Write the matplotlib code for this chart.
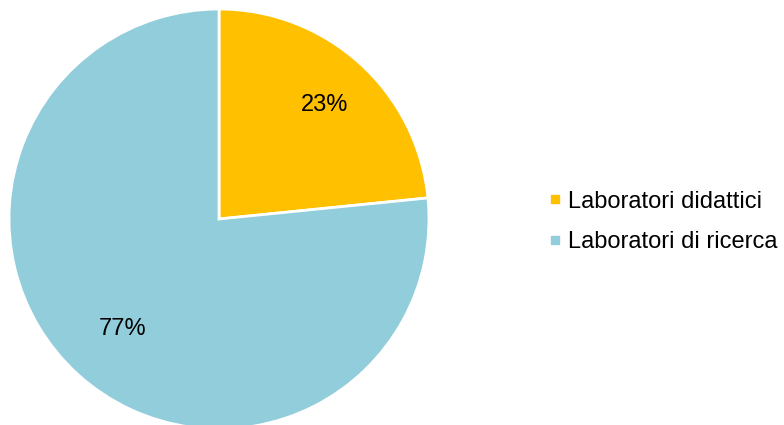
import numpy as np
import matplotlib.pyplot as plt
from matplotlib.lines import Line2D

plt.rcParams["font.family"] = ["Liberation Sans", "DejaVu Sans"]

categorie = ["Laboratori didattici", "Laboratori di ricerca"]
valori = [23.4, 76.6]
colori = ["#FFC000", "#92CDDC"]

W, H = 784, 425
fig = plt.figure(figsize=(W / 100, H / 100), dpi=100)

# pie area: center (219, 219) px, radius 210 px
ax = fig.add_axes([9 / W, (H - 429) / H, 420 / W, 420 / H])
wedges, testi, autotesti = ax.pie(
    valori,
    colors=colori,
    startangle=90,
    counterclock=False,
    radius=1,
    autopct="%1.0f%%",
    wedgeprops=dict(edgecolor="white", linewidth=2),
    textprops=dict(fontsize=17, color="black"),
)
# distanza etichette percentuali per spicchio
for w, t, d in zip(wedges, autotesti, [0.75, 0.685]):
    ang = np.deg2rad((w.theta1 + w.theta2) / 2)
    t.set_position((d * np.cos(ang), d * np.sin(ang) - 0.015))
ax.set_xlim(-1, 1)
ax.set_ylim(-1, 1)
ax.axis("off")

handles = [
    Line2D([], [], marker="s", linestyle="none", markersize=6,
           markerfacecolor=c, markeredgecolor=c)
    for c in colori
]
fig.legend(
    handles, categorie,
    loc="center left",
    bbox_to_anchor=(540 / W, 1 - 222 / H),
    frameon=False,
    fontsize=17,
    handlelength=0.5,
    handletextpad=0.3,
    labelspacing=0.8,
    borderaxespad=0,
)

fig.savefig("out.png", dpi=100)
